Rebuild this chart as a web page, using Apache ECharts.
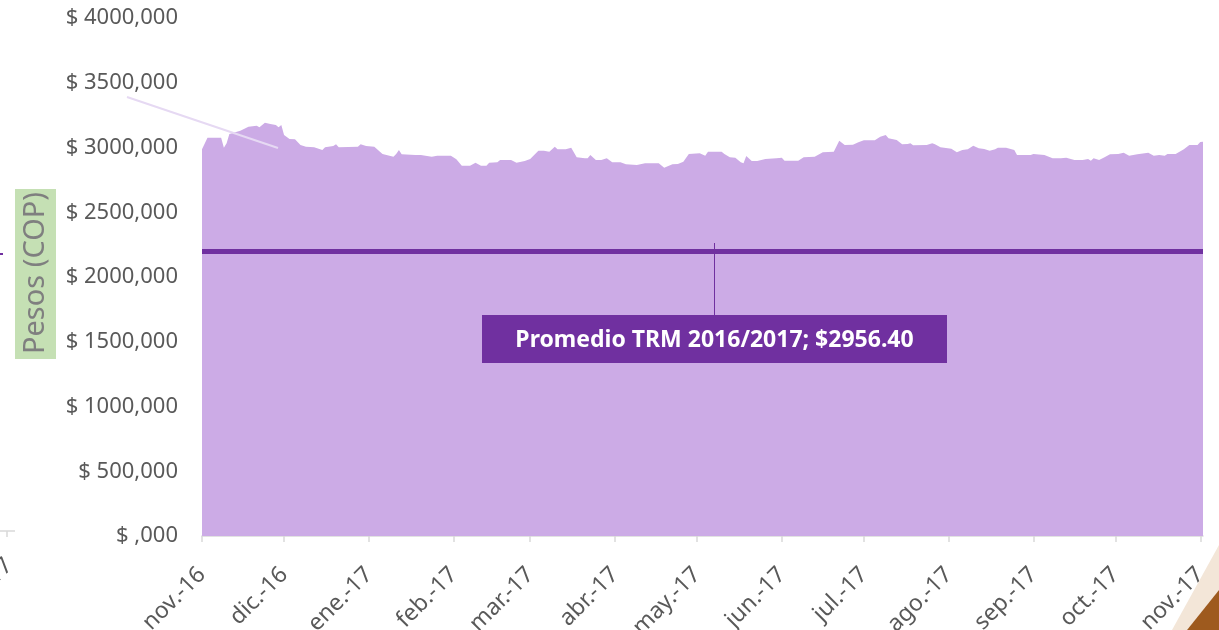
<!DOCTYPE html>
<html>
<head>
<meta charset="utf-8">
<script src="https://cdn.jsdelivr.net/npm/echarts@6/dist/echarts.min.js"></script>
<style>
html,body{margin:0;padding:0;background:#fff}
#chart{width:1219px;height:630px}
</style>
</head>
<body>
<div id="chart"></div>
<script>
// TRM diaria (COP por USD)
var dates = [
'2016-11-01','2016-11-03','2016-11-08','2016-11-09','2016-11-10','2016-11-11','2016-11-15','2016-11-18','2016-11-21','2016-11-22',
'2016-11-24','2016-11-26','2016-11-28','2016-11-29','2016-11-30','2016-12-01','2016-12-03','2016-12-05','2016-12-07','2016-12-09',
'2016-12-12','2016-12-15','2016-12-16','2016-12-19','2016-12-20','2016-12-21','2016-12-28','2016-12-29','2016-12-31','2017-01-03',
'2017-01-06','2017-01-10','2017-01-11','2017-01-12','2017-01-13','2017-01-18','2017-01-20','2017-01-24','2017-01-26','2017-01-31',
'2017-02-02','2017-02-04','2017-02-07','2017-02-09','2017-02-11','2017-02-13','2017-02-14','2017-02-17','2017-02-18','2017-02-22',
'2017-02-24','2017-02-27','2017-03-01','2017-03-04','2017-03-06','2017-03-08','2017-03-10','2017-03-11','2017-03-14','2017-03-16',
'2017-03-18','2017-03-21','2017-03-22','2017-03-23','2017-03-25','2017-03-27','2017-03-29','2017-03-31','2017-04-03','2017-04-05',
'2017-04-09','2017-04-12','2017-04-17','2017-04-19','2017-04-22','2017-04-24','2017-04-26','2017-04-28','2017-05-02','2017-05-04',
'2017-05-05','2017-05-10','2017-05-11','2017-05-13','2017-05-15','2017-05-17','2017-05-18','2017-05-19','2017-05-21','2017-05-23',
'2017-05-26','2017-05-30','2017-06-01','2017-06-02','2017-06-07','2017-06-09','2017-06-13','2017-06-16','2017-06-20','2017-06-22',
'2017-06-24','2017-06-27','2017-06-29','2017-07-01','2017-07-05','2017-07-07','2017-07-09','2017-07-10','2017-07-13','2017-07-15',
'2017-07-17','2017-07-18','2017-07-19','2017-07-24','2017-07-26','2017-07-27','2017-07-29','2017-08-02','2017-08-04','2017-08-06',
'2017-08-08','2017-08-10','2017-08-12','2017-08-14','2017-08-16','2017-08-18','2017-08-19','2017-08-22','2017-08-25','2017-08-26',
'2017-08-31','2017-09-01','2017-09-05','2017-09-08','2017-09-11','2017-09-13','2017-09-16','2017-09-19','2017-09-21','2017-09-22',
'2017-09-23','2017-09-25','2017-09-27','2017-09-29','2017-10-02','2017-10-04','2017-10-06','2017-10-09','2017-10-13','2017-10-15',
'2017-10-17','2017-10-19','2017-10-20','2017-10-23','2017-10-26','2017-10-28','2017-10-31','2017-11-01','2017-11-02'
];
var trm = [
2986,3076,3076,2998,3032,3104,3130,3161,3168,3156,
3192,3181,3174,3156,3174,3097,3066,3063,3019,3006,
3002,2981,3002,3012,3025,3002,3006,3025,3012,3006,
2950,2929,2950,2981,2947,2942,2942,2929,2937,2937,
2909,2860,2860,2883,2860,2860,2883,2886,2903,2903,
2883,2896,2911,2975,2975,2968,3006,2986,2986,2998,
2924,2917,2917,2942,2903,2903,2917,2886,2886,2870,
2865,2878,2878,2844,2870,2873,2890,2950,2955,2937,
2968,2968,2950,2924,2921,2886,2878,2934,2896,2896,
2911,2917,2921,2898,2898,2924,2929,2963,2968,3053,
3019,3022,3040,3056,3056,3083,3097,3071,3058,3025,
3027,3032,3017,3019,3032,3025,3002,2990,2963,2981,
2986,3014,2994,2988,2975,2986,2998,2998,2981,2942,
2942,2950,2942,2917,2917,2921,2903,2903,2911,2898,
2917,2903,2924,2947,2950,2960,2937,2947,2960,2937,
2942,2937,2950,2950,2986,3019,3019,3042,3045
];
var monthTicks = ['2016-11-01','2016-12-01','2017-01-01','2017-02-01','2017-03-01','2017-04-01','2017-05-01',
  '2017-06-01','2017-07-01','2017-08-01','2017-09-01','2017-10-01','2017-11-01'];
var monthLabels = ['nov.-16','dic.-16','ene.-17','feb.-17','mar.-17','abr.-17','may.-17',
  'jun.-17','jul.-17','ago.-17','sep.-17','oct.-17','nov.-17'];
var promedio = 2200;
var promedioTexto = 'Promedio TRM 2016/2017; $2956.40';

function toTime(s) {
    var p = s.split('-');
    return Date.UTC(+p[0], +p[1] - 1, +p[2]);
}
var tickVals = monthTicks.map(toTime);

var chart = echarts.init(document.getElementById('chart'));
var labelFont = 'Noto Sans';

var option = {
    animation: false,
    grid: { left: 202, right: 16, top: 18, bottom: 94, containLabel: false, outerBoundsMode: 'none' },
    xAxis: {
        type: 'value',
        min: toTime(dates[0]),
        max: toTime(dates[dates.length - 1]),
        axisLine: { lineStyle: { color: '#D9D9D9', width: 1.5 } },
        axisTick: { show: true, customValues: tickVals, length: 6, lineStyle: { color: '#D9D9D9', width: 1.5 } },
        axisLabel: {
            customValues: tickVals,
            rotate: 45,
            margin: 35,
            color: '#595959',
            fontSize: 23,
            fontFamily: labelFont,
            formatter: function (v) {
                var i = tickVals.indexOf(v);
                return i >= 0 ? monthLabels[i] : '';
            }
        },
        splitLine: { show: false }
    },
    yAxis: {
        type: 'value',
        min: 0,
        max: 4000,
        interval: 500,
        axisLine: { show: false },
        axisTick: { show: false },
        splitLine: { show: false },
        axisLabel: {
            margin: 24,
            color: '#595959',
            fontSize: 22,
            fontFamily: labelFont,
            formatter: function (v) { return '$ ' + (v === 0 ? '' : v) + ',000'; }
        }
    },
    series: [{
        name: 'TRM',
        type: 'line',
        data: dates.map(function (d, i) { return [toTime(d), trm[i]]; }),
        symbol: 'none',
        lineStyle: { width: 0 },
        areaStyle: { color: '#CCABE6', opacity: 1 },
        markLine: {
            silent: true,
            symbol: 'none',
            label: { show: false },
            lineStyle: { color: '#7030A0', width: 5, type: 'solid' },
            data: [{ yAxis: promedio }]
        }
    }],
    graphic: [
        // linea guia hacia la etiqueta del promedio
        { type: 'line', z: 100, shape: { x1: 714.5, y1: 243, x2: 714.5, y2: 315 }, style: { stroke: '#7030A0', lineWidth: 1 } },
        { type: 'rect', z: 100, shape: { x: 482, y: 315, width: 465, height: 48 }, style: { fill: '#7030A0' } },
        { type: 'text', z: 101, x: 714.5, y: 340, style: { text: promedioTexto, fill: '#fff', font: 'bold 23px "Noto Sans"', align: 'center', verticalAlign: 'middle' } },
        // linea tenue de otra etiqueta
        { type: 'line', z: 100, shape: { x1: 127, y1: 97, x2: 278, y2: 148 }, style: { stroke: '#E6D9F3', lineWidth: 2 } },
        // titulo del eje Y
        { type: 'rect', z: 100, shape: { x: 15, y: 189, width: 41, height: 170 }, style: { fill: '#C5E0B4' } },
        { type: 'text', z: 101, x: 36, y: 273, rotation: Math.PI / 2, style: { text: 'Pesos (COP)', fill: '#7F7F7F', font: '29px "Noto Sans"', align: 'center', verticalAlign: 'middle' } },
        // restos de otro grafico a la izquierda
        { type: 'line', z: 100, shape: { x1: 0, y1: 254, x2: 3, y2: 254 }, style: { stroke: '#7030A0', lineWidth: 2 } },
        { type: 'line', z: 100, shape: { x1: 0, y1: 531, x2: 15, y2: 531 }, style: { stroke: '#D9D9D9', lineWidth: 1.5 } },
        { type: 'line', z: 100, shape: { x1: 7, y1: 531, x2: 7, y2: 537 }, style: { stroke: '#D9D9D9', lineWidth: 1.5 } },
        { type: 'text', z: 100, x: 9, y: 562, rotation: Math.PI / 4, style: { text: 'nov.-17', fill: '#595959', font: '23px "Noto Sans"', align: 'right', verticalAlign: 'middle' } },
        // esquina decorativa
        { type: 'polygon', z: 100, shape: { points: [[1219, 545], [1219, 590], [1187, 630], [1172, 630]] }, style: { fill: '#F3E6D8' } },
        { type: 'polygon', z: 101, shape: { points: [[1219, 590], [1219, 630], [1187, 630]] }, style: { fill: '#9E5A1E' } }
    ]
};
chart.setOption(option);
</script>
</body>
</html>
